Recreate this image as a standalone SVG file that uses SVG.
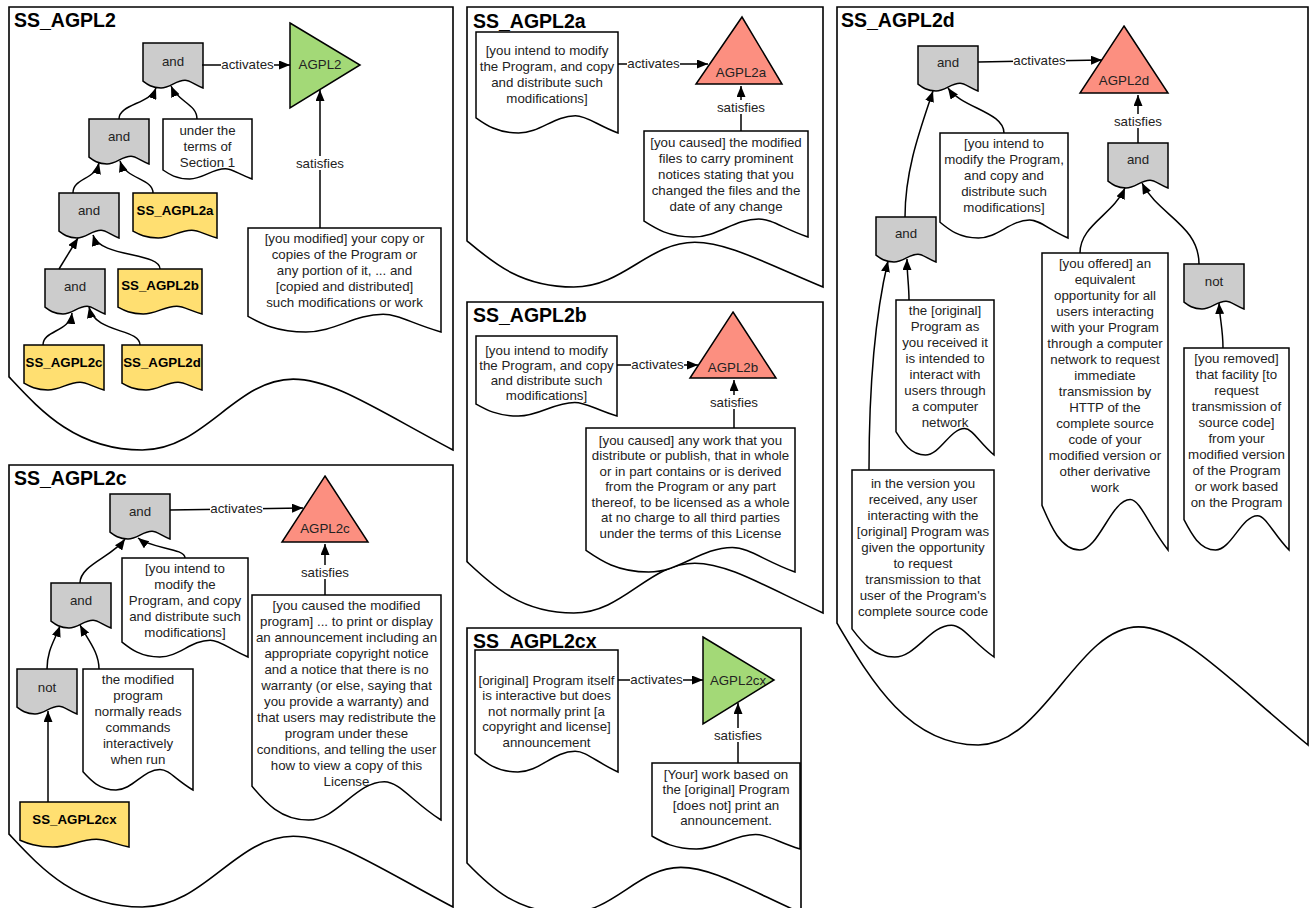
<svg xmlns="http://www.w3.org/2000/svg" width="1311" height="908" viewBox="0 0 1311 908">
<defs>
<style>
.frame{fill:#fff;stroke:#000;stroke-width:1.6}
.gate{fill:#ccc;stroke:#000;stroke-width:1.5}
.doc{fill:#fff;stroke:#000;stroke-width:1.5}
.ss{fill:#ffdf71;stroke:#000;stroke-width:1.5}
.green{fill:#a3d977;stroke:#000;stroke-width:1.5}
.red{fill:#fc8f80;stroke:#000;stroke-width:1.5}
text{font-family:"Liberation Sans",Arial,sans-serif;font-size:13.3px;fill:#222;text-anchor:middle}
.b{font-weight:bold;fill:#000}
.title{font-size:19.5px;font-weight:bold;fill:#000;text-anchor:start}
.edge{fill:none;stroke:#000;stroke-width:1.5;marker-end:url(#ah)}
.bg{fill:#fff}
</style>
<marker id="ah" markerUnits="userSpaceOnUse" markerWidth="11" markerHeight="9" refX="11" refY="4.5" orient="auto"><path d="M0,0 L11,4.5 L0,9 z" fill="#000"/></marker>
</defs>
<rect width="1311" height="908" fill="#fff"/>

<!-- Panels -->
<g id="panel-SS_AGPL2">
<path class="frame" d="M9,7 h444 v443 c-75.5,-39.9 -119.9,-70.9 -159.8,-70.9 c-57.7,0 -88.8,70.9 -151,70.9 c-66.6,0 -102.1,-39.9 -133.2,-73.1 z"/>
<text class="title" x="14" y="27">SS_AGPL2</text>
</g>
<g id="panel-SS_AGPL2c">
<path class="frame" d="M9,465 h444 v442 c-75.5,-39.8 -119.9,-70.7 -159.8,-70.7 c-57.7,0 -88.8,70.7 -151,70.7 c-66.6,0 -102.1,-39.8 -133.2,-72.9 z"/>
<text class="title" x="14" y="485">SS_AGPL2c</text>
</g>
<g id="panel-SS_AGPL2a">
<path class="frame" d="M467,7 h356 v280 c-60.5,-25.2 -96.1,-44.8 -128.2,-44.8 c-46.3,0 -71.2,44.8 -121,44.8 c-53.4,0 -81.9,-25.2 -106.8,-46.2 z"/>
<text class="title" x="473" y="28">SS_AGPL2a</text>
</g>
<g id="panel-SS_AGPL2b">
<path class="frame" d="M467,302 h356 v311 c-60.5,-28 -96.1,-49.8 -128.2,-49.8 c-46.3,0 -71.2,49.8 -121,49.8 c-53.4,0 -81.9,-28 -106.8,-51.3 z"/>
<text class="title" x="473" y="322">SS_AGPL2b</text>
</g>
<g id="panel-SS_AGPL2cx">
<path class="frame" d="M467,628 h334 v285 c-56.8,-25.7 -90.2,-45.6 -120.2,-45.6 c-43.4,0 -66.8,45.6 -113.6,45.6 c-50.1,0 -76.8,-25.7 -100.2,-50 z"/>
<text class="title" x="473" y="648">SS_AGPL2cx</text>
</g>
<g id="panel-SS_AGPL2d">
<path class="frame" d="M837,7 h471 v738 c-80.1,-66.4 -127.2,-118.1 -169.6,-118.1 c-61.2,0 -94.2,118.1 -160.1,118.1 c-70.7,0 -108.3,-66.4 -141.3,-121.8 z"/>
<text class="title" x="841" y="27">SS_AGPL2d</text>
</g>

<!-- Panel SS_AGPL2 nodes -->
<g id="p1-and1"><path class="gate" d="M143,43 h60 v45 c-9,-3.6 -13.2,-7.7 -18,-7.7 c-9,0 -15,7.7 -24,7.7 c-9,0 -13.8,-3.6 -18,-6.8 z"/><text x="173" y="65.5">and</text></g>
<g id="p1-AGPL2"><polygon class="green" points="290,23 360,65 290,108"/><text x="320" y="69">AGPL2</text></g>
<g id="p1-and2"><path class="gate" d="M89,119 h60 v45 c-9,-3.6 -13.2,-7.7 -18,-7.7 c-9,0 -15,7.7 -24,7.7 c-9,0 -13.8,-3.6 -18,-6.8 z"/><text x="119" y="140.5">and</text></g>
<g id="p1-terms"><path class="doc" d="M163,119 h89 v60 c-13.4,-4.8 -19.6,-10.2 -26.7,-10.2 c-13.4,0 -22.3,10.2 -35.6,10.2 c-13.4,0 -20.5,-4.8 -26.7,-9 z"/><text x="207.5" y="134.5">under the<tspan x="207.5" dy="16">terms of</tspan><tspan x="207.5" dy="16">Section 1</tspan></text></g>
<g id="p1-and3"><path class="gate" d="M59,193 h60 v45 c-9,-3.6 -13.2,-7.7 -18,-7.7 c-9,0 -15,7.7 -24,7.7 c-9,0 -13.8,-3.6 -18,-6.8 z"/><text x="89" y="214.5">and</text></g>
<g id="p1-SS_AGPL2a"><path class="ss" d="M133,193 h84 v45 c-12.6,-3.6 -18.5,-7.7 -25.2,-7.7 c-12.6,0 -21,7.7 -33.6,7.7 c-12.6,0 -19.3,-3.6 -25.2,-6.8 z"/><text class="b" x="175" y="214.5">SS_AGPL2a</text></g>
<g id="p1-and4"><path class="gate" d="M45,269 h60 v45 c-9,-3.6 -13.2,-7.7 -18,-7.7 c-9,0 -15,7.7 -24,7.7 c-9,0 -13.8,-3.6 -18,-6.8 z"/><text x="75" y="290.5">and</text></g>
<g id="p1-SS_AGPL2b"><path class="ss" d="M118,269 h84 v45 c-12.6,-3.6 -18.5,-7.7 -25.2,-7.7 c-12.6,0 -21,7.7 -33.6,7.7 c-12.6,0 -19.3,-3.6 -25.2,-6.8 z"/><text class="b" x="160" y="289.5">SS_AGPL2b</text></g>
<g id="p1-SS_AGPL2c"><path class="ss" d="M24,345 h80 v45 c-12,-3.6 -17.6,-7.7 -24,-7.7 c-12,0 -20,7.7 -32,7.7 c-12,0 -18.4,-3.6 -24,-6.8 z"/><text class="b" x="64" y="366.5">SS_AGPL2c</text></g>
<g id="p1-SS_AGPL2d"><path class="ss" d="M122,345 h80 v45 c-12,-3.6 -17.6,-7.7 -24,-7.7 c-12,0 -20,7.7 -32,7.7 c-12,0 -18.4,-3.6 -24,-6.8 z"/><text class="b" x="162" y="366.5">SS_AGPL2d</text></g>
<g id="p1-modified"><path class="doc" d="M248,228 h193 v104 c-29,-8.3 -42.5,-17.7 -57.9,-17.7 c-29,0 -48.3,17.7 -77.2,17.7 c-29,0 -44.4,-8.3 -57.9,-15.6 z"/><text x="344.5" y="242.5">[you modified] your copy or<tspan x="344.5" dy="16">copies of the Program or</tspan><tspan x="344.5" dy="16">any portion of it, ... and</tspan><tspan x="344.5" dy="16">[copied and distributed]</tspan><tspan x="344.5" dy="16">such modifications or work</tspan></text></g>

<!-- Panel SS_AGPL2c nodes -->
<g id="p2-andA"><path class="gate" d="M110,494 h60 v45 c-9,-3.6 -13.2,-7.7 -18,-7.7 c-9,0 -15,7.7 -24,7.7 c-9,0 -13.8,-3.6 -18,-6.8 z"/><text x="140" y="515.5">and</text></g>
<g id="p2-AGPL2c"><polygon class="red" points="325,476 368,542 282,542"/><text x="325" y="532.5">AGPL2c</text></g>
<g id="p2-andB"><path class="gate" d="M51,583 h60 v45 c-9,-3.6 -13.2,-7.7 -18,-7.7 c-9,0 -15,7.7 -24,7.7 c-9,0 -13.8,-3.6 -18,-6.8 z"/><text x="81" y="604.5">and</text></g>
<g id="p2-intend"><path class="doc" d="M122,558 h126 v99 c-18.9,-7.9 -27.7,-16.8 -37.8,-16.8 c-18.9,0 -31.5,16.8 -50.4,16.8 c-18.9,0 -29,-7.9 -37.8,-14.9 z"/><text x="185" y="572.5">[you intend to<tspan x="185" dy="16">modify the</tspan><tspan x="185" dy="16">Program, and copy</tspan><tspan x="185" dy="16">and distribute such</tspan><tspan x="185" dy="16">modifications]</tspan></text></g>
<g id="p2-not"><path class="gate" d="M17,669 h60 v45 c-9,-3.6 -13.2,-7.7 -18,-7.7 c-9,0 -15,7.7 -24,7.7 c-9,0 -13.8,-3.6 -18,-6.8 z"/><text x="47" y="691.5">not</text></g>
<g id="p2-reads"><path class="doc" d="M83,669 h110 v121 c-16.5,-9.7 -24.2,-20.6 -33,-20.6 c-16.5,0 -27.5,20.6 -44,20.6 c-16.5,0 -25.3,-9.7 -33,-18.2 z"/><text x="138" y="683.5">the modified<tspan x="138" dy="16">program</tspan><tspan x="138" dy="16">normally reads</tspan><tspan x="138" dy="16">commands</tspan><tspan x="138" dy="16">interactively</tspan><tspan x="138" dy="16">when run</tspan></text></g>
<g id="p2-SS_AGPL2cx"><path class="ss" d="M20,802 h109 v45 c-16.4,-3.6 -24,-7.7 -32.7,-7.7 c-16.4,0 -27.3,7.7 -43.6,7.7 c-16.4,0 -25.1,-3.6 -32.7,-6.8 z"/><text class="b" x="74.5" y="823.5">SS_AGPL2cx</text></g>
<g id="p2-caused"><path class="doc" d="M252,595 h189 v225 c-28.4,-18 -41.6,-38.3 -56.7,-38.3 c-28.4,0 -47.3,38.3 -75.6,38.3 c-28.4,0 -43.5,-18 -56.7,-33.8 z"/><text x="346.5" y="609.5">[you caused the modified<tspan x="346.5" dy="16">program] ... to print or display</tspan><tspan x="346.5" dy="16">an announcement including an</tspan><tspan x="346.5" dy="16">appropriate copyright notice</tspan><tspan x="346.5" dy="16">and a notice that there is no</tspan><tspan x="346.5" dy="16">warranty (or else, saying that</tspan><tspan x="346.5" dy="16">you provide a warranty) and</tspan><tspan x="346.5" dy="16">that users may redistribute the</tspan><tspan x="346.5" dy="16">program under these</tspan><tspan x="346.5" dy="16">conditions, and telling the user</tspan><tspan x="346.5" dy="16">how to view a copy of this</tspan><tspan x="346.5" dy="16">License</tspan></text></g>

<!-- Panel SS_AGPL2a nodes -->
<g id="p3-intend"><path class="doc" d="M476,32 h142 v101 c-21.3,-8.1 -31.2,-17.2 -42.6,-17.2 c-21.3,0 -35.5,17.2 -56.8,17.2 c-21.3,0 -32.7,-8.1 -42.6,-15.2 z"/><text x="547" y="54.5">[you intend to modify<tspan x="547" dy="16">the Program, and copy</tspan><tspan x="547" dy="16">and distribute such</tspan><tspan x="547" dy="16">modifications]</tspan></text></g>
<g id="p3-AGPL2a"><polygon class="red" points="742,17 782,84 696,84"/><text x="741" y="76.5">AGPL2a</text></g>
<g id="p3-caused"><path class="doc" d="M644,131 h164 v106 c-24.6,-8.5 -36.1,-18 -49.2,-18 c-24.6,0 -41,18 -65.6,18 c-24.6,0 -37.7,-8.5 -49.2,-15.9 z"/><text x="726" y="146.5">[you caused] the modified<tspan x="726" dy="16">files to carry prominent</tspan><tspan x="726" dy="16">notices stating that you</tspan><tspan x="726" dy="16">changed the files and the</tspan><tspan x="726" dy="16">date of any change</tspan></text></g>

<!-- Panel SS_AGPL2b nodes -->
<g id="p4-intend"><path class="doc" d="M476,336 h141 v80 c-21.2,-6.4 -31,-13.6 -42.3,-13.6 c-21.2,0 -35.3,13.6 -56.4,13.6 c-21.2,0 -32.4,-6.4 -42.3,-12 z"/><text x="546.5" y="354.5">[you intend to modify<tspan x="546.5" dy="15">the Program, and copy</tspan><tspan x="546.5" dy="15">and distribute such</tspan><tspan x="546.5" dy="15">modifications]</tspan></text></g>
<g id="p4-AGPL2b"><polygon class="red" points="733,312 776,378 690,378"/><text x="733" y="371.5">AGPL2b</text></g>
<g id="p4-caused"><path class="doc" d="M586,428 h209 v144 c-31.4,-11.5 -46,-24.5 -62.7,-24.5 c-31.4,0 -52.3,24.5 -83.6,24.5 c-31.4,0 -48.1,-11.5 -62.7,-21.6 z"/><text x="690.5" y="444.5">[you caused] any work that you<tspan x="690.5" dy="15.5">distribute or publish, that in whole</tspan><tspan x="690.5" dy="15.5">or in part contains or is derived</tspan><tspan x="690.5" dy="15.5">from the Program or any part</tspan><tspan x="690.5" dy="15.5">thereof, to be licensed as a whole</tspan><tspan x="690.5" dy="15.5">at no charge to all third parties</tspan><tspan x="690.5" dy="15.5">under the terms of this License</tspan></text></g>

<!-- Panel SS_AGPL2cx nodes -->
<g id="p5-original"><path class="doc" d="M475,650 h143 v122 c-21.5,-9.8 -31.5,-20.7 -42.9,-20.7 c-21.5,0 -35.8,20.7 -57.2,20.7 c-21.5,0 -32.9,-9.8 -42.9,-18.3 z"/><text x="546.5" y="684.5">[original] Program itself<tspan x="546.5" dy="15.5">is interactive but does</tspan><tspan x="546.5" dy="15.5">not normally print [a</tspan><tspan x="546.5" dy="15.5">copyright and license]</tspan><tspan x="546.5" dy="15.5">announcement</tspan></text></g>
<g id="p5-AGPL2cx"><polygon class="green" points="703,637 774,680 703,724"/><text x="738" y="684.5">AGPL2cx</text></g>
<g id="p5-your"><path class="doc" d="M652,763 h148 v86 c-22.2,-6.9 -32.6,-14.6 -44.4,-14.6 c-22.2,0 -37,14.6 -59.2,14.6 c-22.2,0 -34,-6.9 -44.4,-12.9 z"/><text x="726" y="778.5">[Your] work based on<tspan x="726" dy="15.5">the [original] Program</tspan><tspan x="726" dy="15.5">[does not] print an</tspan><tspan x="726" dy="15.5">announcement.</tspan></text></g>

<!-- Panel SS_AGPL2d nodes -->
<g id="p6-and1"><path class="gate" d="M918,46 h60 v45 c-9,-3.6 -13.2,-7.7 -18,-7.7 c-9,0 -15,7.7 -24,7.7 c-9,0 -13.8,-3.6 -18,-6.8 z"/><text x="948" y="66.5">and</text></g>
<g id="p6-AGPL2d"><polygon class="red" points="1124,26 1168,93 1080,93"/><text x="1124" y="84.5">AGPL2d</text></g>
<g id="p6-and2"><path class="gate" d="M1108,143 h60 v45 c-9,-3.6 -13.2,-7.7 -18,-7.7 c-9,0 -15,7.7 -24,7.7 c-9,0 -13.8,-3.6 -18,-6.8 z"/><text x="1138" y="163.5">and</text></g>
<g id="p6-intend"><path class="doc" d="M940,133 h128 v105 c-19.2,-8.4 -28.2,-17.9 -38.4,-17.9 c-19.2,0 -32,17.9 -51.2,17.9 c-19.2,0 -29.4,-8.4 -38.4,-15.8 z"/><text x="1004" y="147.5">[you intend to<tspan x="1004" dy="16">modify the Program,</tspan><tspan x="1004" dy="16">and copy and</tspan><tspan x="1004" dy="16">distribute such</tspan><tspan x="1004" dy="16">modifications]</tspan></text></g>
<g id="p6-and3"><path class="gate" d="M876,217 h60 v45 c-9,-3.6 -13.2,-7.7 -18,-7.7 c-9,0 -15,7.7 -24,7.7 c-9,0 -13.8,-3.6 -18,-6.8 z"/><text x="906" y="237.5">and</text></g>
<g id="p6-network"><path class="doc" d="M896,300 h98 v155 c-14.7,-12.4 -21.6,-26.4 -29.4,-26.4 c-14.7,0 -24.5,26.4 -39.2,26.4 c-14.7,0 -22.5,-12.4 -29.4,-23.3 z"/><text x="945" y="314.5">the [original]<tspan x="945" dy="16">Program as</tspan><tspan x="945" dy="16">you received it</tspan><tspan x="945" dy="16">is intended to</tspan><tspan x="945" dy="16">interact with</tspan><tspan x="945" dy="16">users through</tspan><tspan x="945" dy="16">a computer</tspan><tspan x="945" dy="16">network</tspan></text></g>
<g id="p6-version"><path class="doc" d="M852,470 h142 v187 c-21.3,-15 -31.2,-31.8 -42.6,-31.8 c-21.3,0 -35.5,31.8 -56.8,31.8 c-21.3,0 -32.7,-15 -42.6,-28.1 z"/><text x="923" y="487.5">in the version you<tspan x="923" dy="16">received, any user</tspan><tspan x="923" dy="16">interacting with the</tspan><tspan x="923" dy="16">[original] Program was</tspan><tspan x="923" dy="16">given the opportunity</tspan><tspan x="923" dy="16">to request</tspan><tspan x="923" dy="16">transmission to that</tspan><tspan x="923" dy="16">user of the Program's</tspan><tspan x="923" dy="16">complete source code</tspan></text></g>
<g id="p6-offered"><path class="doc" d="M1042,253 h126 v297 c-18.9,-23.8 -27.7,-50.5 -37.8,-50.5 c-18.9,0 -31.5,50.5 -50.4,50.5 c-18.9,0 -29,-23.8 -37.8,-44.6 z"/><text x="1105" y="267.5">[you offered] an<tspan x="1105" dy="16">equivalent</tspan><tspan x="1105" dy="16">opportunity for all</tspan><tspan x="1105" dy="16">users interacting</tspan><tspan x="1105" dy="16">with your Program</tspan><tspan x="1105" dy="16">through a computer</tspan><tspan x="1105" dy="16">network to request</tspan><tspan x="1105" dy="16">immediate</tspan><tspan x="1105" dy="16">transmission by</tspan><tspan x="1105" dy="16">HTTP of the</tspan><tspan x="1105" dy="16">complete source</tspan><tspan x="1105" dy="16">code of your</tspan><tspan x="1105" dy="16">modified version or</tspan><tspan x="1105" dy="16">other derivative</tspan><tspan x="1105" dy="16">work</tspan></text></g>
<g id="p6-not"><path class="gate" d="M1184,264 h60 v45 c-9,-3.6 -13.2,-7.7 -18,-7.7 c-9,0 -15,7.7 -24,7.7 c-9,0 -13.8,-3.6 -18,-6.8 z"/><text x="1214" y="285.5">not</text></g>
<g id="p6-removed"><path class="doc" d="M1184,348 h105 v202 c-15.8,-16.2 -23.1,-34.3 -31.5,-34.3 c-15.8,0 -26.3,34.3 -42,34.3 c-15.8,0 -24.2,-16.2 -31.5,-30.3 z"/><text x="1236.5" y="362.5">[you removed]<tspan x="1236.5" dy="16">that facility [to</tspan><tspan x="1236.5" dy="16">request</tspan><tspan x="1236.5" dy="16">transmission of</tspan><tspan x="1236.5" dy="16">source code]</tspan><tspan x="1236.5" dy="16">from your</tspan><tspan x="1236.5" dy="16">modified version</tspan><tspan x="1236.5" dy="16">of the Program</tspan><tspan x="1236.5" dy="16">or work based</tspan><tspan x="1236.5" dy="16">on the Program</tspan></text></g>

<!-- Connectors -->
<g id="connectors">
<path class="edge" d="M119,119 C119,104 150,104 156,88"/>
<path class="edge" d="M197,119 C197,104 178,102 171,86"/>
<path class="edge" d="M73,193 C73,178 95,180 99,163"/>
<path class="edge" d="M153,193 C153,178 126,180 120,161"/>
<path class="edge" d="M59,269 L78,238"/>
<path class="edge" d="M160,269 C160,252 100,258 93,235"/>
<path class="edge" d="M43,345 C43,330 70,332 72,313"/>
<path class="edge" d="M140,345 C140,328 95,334 89,307"/>
<path class="edge" d="M202,65 H290"/>
<path class="edge" d="M320,228 V90"/>

<path class="edge" d="M80,583 C80,565 112,557 125,539"/>
<path class="edge" d="M185,558 C185,548 152,549 138,538"/>
<path class="edge" d="M47,669 C47,650 55,640 60,626"/>
<path class="edge" d="M99,669 C99,652 88,640 80,625"/>
<path class="edge" d="M48,802 V711"/>
<path class="edge" d="M170,510 L303,508"/>
<path class="edge" d="M325,595 V544"/>

<path class="edge" d="M618,64 L708,64"/>
<path class="edge" d="M741,131 V86"/>
<path class="edge" d="M617,365 L698,365"/>
<path class="edge" d="M734,428 V380"/>
<path class="edge" d="M618,680 L703,680"/>
<path class="edge" d="M738,763 V703"/>

<path class="edge" d="M978,62 L1102,60"/>
<path class="edge" d="M1138,143 V95"/>
<path class="edge" d="M905,217 C905,170 920,130 933,91"/>
<path class="edge" d="M1004,133 C1004,112 962,108 948,88"/>
<path class="edge" d="M909,300 C909,285 907,275 907,259"/>
<path class="edge" d="M869,470 C869,390 874,320 888,261"/>
<path class="edge" d="M1080,253 C1080,225 1113,215 1125,188"/>
<path class="edge" d="M1199,264 C1199,225 1158,215 1142,183"/>
<path class="edge" d="M1223,348 C1223,330 1220,320 1219,303"/>

<g id="edge-labels">
<rect class="bg" x="221" y="57" width="53" height="14"/><text x="247.5" y="68.5">activates</text>
<rect class="bg" x="296" y="156" width="49" height="14"/><text x="320" y="167.5">satisfies</text>
<rect class="bg" x="210" y="501" width="53" height="14"/><text x="236.5" y="512.5">activates</text>
<rect class="bg" x="301" y="565" width="49" height="14"/><text x="325" y="576.5">satisfies</text>
<rect class="bg" x="627" y="57" width="53" height="14"/><text x="653.5" y="68">activates</text>
<rect class="bg" x="717" y="100" width="49" height="14"/><text x="741" y="111.5">satisfies</text>
<rect class="bg" x="631" y="358" width="53" height="14"/><text x="657.5" y="369">activates</text>
<rect class="bg" x="710" y="395" width="49" height="14"/><text x="734" y="406.5">satisfies</text>
<rect class="bg" x="630" y="673" width="53" height="14"/><text x="656.5" y="684">activates</text>
<rect class="bg" x="714" y="728" width="49" height="14"/><text x="738" y="739.5">satisfies</text>
<rect class="bg" x="1013" y="53" width="53" height="14"/><text x="1039.5" y="64.5">activates</text>
<rect class="bg" x="1114" y="114" width="49" height="14"/><text x="1138" y="125.5">satisfies</text>
</g>
</g>
</svg>
